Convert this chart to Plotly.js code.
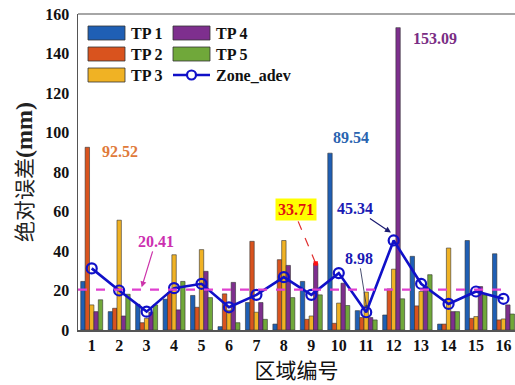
<!DOCTYPE html>
<html><head><meta charset="utf-8">
<script src="https://cdn.plot.ly/plotly-3.0.1.min.js"></script>
<style>html,body{margin:0;padding:0;background:#fff;}</style>
</head><body>
<div id="chart" style="width:515px;height:385px;"></div>
<script>
const zones = [1,2,3,4,5,6,7,8,9,10,11,12,13,14,15,16];
const tickLabels = ["1","2","3","4","5","6","7","8","9","10","11","12","13","14","15","16"];
const tp1 = [24.6, 9.3, 13.0, 15.6, 17.5, 1.7, 13.9, 3.0, 24.6, 89.54, 9.8, 7.6, 37.3, 3.0, 45.3, 38.6];
const tp2 = [92.52, 11.0, 3.7, 19.0, 11.5, 18.3, 44.9, 35.6, 5.4, 3.4, 6.3, 20.8, 12.2, 3.0, 5.9, 5.1];
const tp3 = [12.7, 55.6, 5.9, 38.1, 40.7, 10.0, 9.0, 45.3, 7.1, 13.6, 19.2, 30.8, 19.5, 41.5, 6.8, 5.6];
const tp4 = [9.3, 7.1, 9.0, 10.2, 29.7, 24.1, 13.9, 32.7, 33.71, 23.7, 6.3, 153.09, 22.0, 9.3, 22.0, 12.7];
const tp5 = [15.3, 18.1, 12.7, 24.6, 16.4, 3.7, 5.4, 16.4, 17.8, 12.4, 5.1, 15.8, 28.0, 9.3, 17.8, 8.1];
const zoneAdev = [31.2, 20.0, 9.3, 21.2, 23.4, 11.5, 17.8, 26.8, 17.8, 28.8, 8.98, 45.34, 23.4, 13.2, 19.5, 15.8];
const meanAdev = 20.41;
const seriesNames = ["TP 1","TP 2","TP 3","TP 4","TP 5","Zone_adev"];
const colors = ["#1f5fb4","#d9531e","#f0b224","#7e2f8e","#70a83a","#1010c8"];

const serif = "Liberation Serif, Times New Roman, serif";
const cjk = "Noto Sans CJK SC, sans-serif";

const tpData = [tp1,tp2,tp3,tp4,tp5];
const traces = tpData.map((d,i)=>({
  type:'bar', x:zones, y:d, name:seriesNames[i],
  marker:{color:colors[i], line:{color:'#333', width:0.6}},
  showlegend:false, hoverinfo:'y'
}));
traces.push({
  type:'scatter', mode:'lines+markers', x:zones, y:zoneAdev, name:seriesNames[5],
  line:{color:colors[5], width:2.6},
  marker:{symbol:'circle-open', size:10, color:colors[5], line:{width:2.2, color:colors[5]}},
  showlegend:false
});

// plot area geometry for manual legend (paper coords)
const L=78, T=14, W=437, H=316;
const px = v => (v-L)/W, py = v => (T+H-v)/H;
const shapes = [
  {type:'line', xref:'x', yref:'y', x0:0.5, x1:16, y0:meanAdev, y1:meanAdev,
   line:{color:'#e040d0', width:2.2, dash:'dash'}, layer:'above'},
  {type:'line', xref:'paper', yref:'paper', x0:0, x1:1, y0:1, y1:1, line:{color:'#888', width:1.5}}
];
const annotations = [];
// legend
const legRows = [33, 54, 75];
const legItems = [[0,0,0],[1,0,1],[2,0,2],[3,1,0],[4,1,1],[5,1,2]];
legItems.forEach(([si,col,row])=>{
  const x0 = col===0 ? 88 : 173, x1 = x0+37, yc = legRows[row];
  if(si<5){
    shapes.push({type:'rect', xref:'paper', yref:'paper', x0:px(x0), x1:px(x1), y0:py(yc+7), y1:py(yc-7),
      fillcolor:colors[si], line:{color:'#333', width:0.8}});
  } else {
    shapes.push({type:'line', xref:'paper', yref:'paper', x0:px(x0), x1:px(x1), y0:py(yc), y1:py(yc),
      line:{color:colors[si], width:2.6}});
    shapes.push({type:'circle', xref:'paper', yref:'paper', x0:px(x0+18.5-4.5), x1:px(x0+18.5+4.5), y0:py(yc+4.5), y1:py(yc-4.5),
      fillcolor:'#fff', line:{color:colors[si], width:2.2}});
  }
  annotations.push({xref:'paper', yref:'paper', x:px(x1+4), y:py(yc), xanchor:'left', yanchor:'middle',
    text:'<b>'+seriesNames[si]+'</b>', showarrow:false, font:{family:serif, size:16, color:'#111'}});
});
// value labels
annotations.push({xref:'x', yref:'y', x:2.02, y:90.4, text:'<b>'+tp2[0].toFixed(2)+'</b>', showarrow:false,
  font:{family:serif, size:16, color:'#e07a3a'}});
annotations.push({xref:'x', yref:'y', x:10.45, y:97.5, text:'<b>'+tp1[9].toFixed(2)+'</b>', showarrow:false,
  font:{family:serif, size:16, color:'#2a64b0'}});
annotations.push({xref:'x', yref:'y', x:13.5, y:147.7, text:'<b>'+tp4[11].toFixed(2)+'</b>', showarrow:false,
  font:{family:serif, size:16, color:'#7a2d84'}});
annotations.push({xref:'x', yref:'y', x:2.82, y:meanAdev+1.2, ax:14, ay:-46, text:'<b>'+meanAdev.toFixed(2)+'</b>',
  showarrow:true, arrowhead:2, arrowsize:1, arrowwidth:1.2, arrowcolor:'#cc33aa',
  font:{family:serif, size:16, color:'#cc2fb0'}});
annotations.push({xref:'x', yref:'y', x:11.9, y:zoneAdev[11]+4, ax:-36, ay:-24, text:'<b>'+zoneAdev[11].toFixed(2)+'</b>',
  showarrow:true, arrowhead:2, arrowsize:1, arrowwidth:1.2, arrowcolor:'#1a1a70',
  font:{family:serif, size:16, color:'#1a1ab4'}});
annotations.push({xref:'x', yref:'y', x:11.02, y:zoneAdev[10]+2, ax:-8, ay:-50, text:'<b>'+zoneAdev[10].toFixed(2)+'</b>',
  showarrow:true, arrowhead:2, arrowsize:0.7, arrowwidth:0.9, arrowcolor:'#333a60',
  font:{family:serif, size:16, color:'#1a1ab4'}});
// 33.71 box + dashed connector
const tp4x = 9 + 0.16; // 4th bar within 5-bar group (group width 0.8)
shapes.push({type:'line', xref:'x', yref:'y', x0:8.52, y0:55, x1:tp4x, y1:tp4[8],
  line:{color:'#e03030', width:1.2, dash:'dash'}});
shapes.push({type:'rect', xref:'x', yref:'y', x0:tp4x-0.08, x1:tp4x+0.08, y0:tp4[8]-1.1, y1:tp4[8]+1.1,
  fillcolor:'#ff1010', line:{width:0}});
annotations.push({xref:'x', yref:'y', x:8.45, y:61, text:'<b>'+tp4[8].toFixed(2)+'</b>', showarrow:false,
  bgcolor:'#ffff00', borderpad:2, font:{family:serif, size:16, color:'#e01010'}});

const layout = {
  width:515, height:385,
  margin:{l:78, r:0, t:14, b:55},
  paper_bgcolor:'#fff', plot_bgcolor:'#fff',
  barmode:'group', bargap:0.2, bargroupgap:0,
  showlegend:false,
  xaxis:{range:[0.5,16.42], tickmode:'array', tickvals:zones, ticktext:tickLabels.map(t=>'<b>'+t+'</b>'),
    showgrid:false, zeroline:false, showline:true, linecolor:'#555', linewidth:1.5, ticks:'',
    tickfont:{family:serif, size:16, color:'#111'},
    title:{text:'区域编号', font:{family:cjk, size:21, color:'#111'}, standoff:7}},
  yaxis:{range:[0,160], dtick:20, showgrid:false, zeroline:false, showline:true, linecolor:'#555', linewidth:1.5,
    ticks:'', ticklabelstandoff:4, tickfont:{family:serif, size:16, color:'#111'},
    tickvals:[0,20,40,60,80,100,120,140,160], ticktext:[0,20,40,60,80,100,120,140,160].map(v=>'<b>'+v+'</b>'),
    title:{text:'<span style="font-family:Noto Sans CJK SC;font-weight:normal;font-size:21px">绝对误差</span><b>(mm)</b>', font:{family:serif, size:24, color:'#222'}, standoff:6}},
  shapes:shapes, annotations:annotations
};
Plotly.newPlot('chart', traces, layout, {displayModeBar:false, staticPlot:true});
</script>
</body></html>
